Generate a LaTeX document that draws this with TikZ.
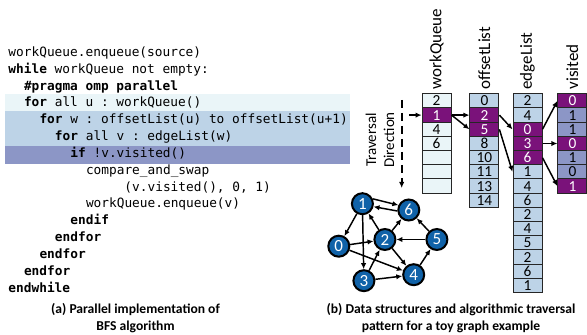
\documentclass[tikz,border=0pt]{standalone}
\usepackage{fontspec}
\setmainfont{Carlito}
\setmonofont{DejaVu Sans Mono}
\usetikzlibrary{arrows.meta}

\definecolor{lightcyan}{RGB}{234,245,248}
\definecolor{steelblue}{RGB}{189,211,231}
\definecolor{lavender}{RGB}{140,150,198}
\definecolor{hotpurple}{RGB}{122,18,122}
\definecolor{nodeblue}{RGB}{16,98,168}

\tikzset{every picture/.style={line width=0.75pt}}
\tikzset{
  >={Latex[length=4.5pt,width=4pt]},
  cell/.style={draw=black!85, minimum width=21.75pt, minimum height=10.65pt, inner sep=0pt, font=\fontsize{11.5}{11.5}\selectfont},
  wqcell/.style={cell, fill=lightcyan},
  lscell/.style={cell, fill=steelblue},
  viscell/.style={cell, fill=lavender},
  hotcell/.style={cell, fill=hotpurple, text=white},
  colname/.style={rotate=90, anchor=west, inner sep=0pt, font=\fontsize{12.75}{13}\selectfont},
  gnode/.style={circle, draw=black, line width=1.5pt, fill=nodeblue, text=white, minimum size=15.75pt, inner sep=0pt, font=\fontsize{12.75}{12.75}\selectfont},
  garrow/.style={->, line width=1.1pt},
  code/.style={anchor=west, inner sep=0pt, text height=7pt, text depth=2pt, font=\ttfamily\fontsize{9.6}{10}\selectfont},
  caption/.style={align=center, inner sep=0pt, font=\bfseries\fontsize{10.2}{12.75}\selectfont}
}

\begin{document}
\begin{tikzpicture}[x=0.75pt,y=0.75pt,yscale=-1,xscale=1]
\useasboundingbox (0,0) rectangle (587,335);

%Shape: Rectangle (code highlights)
\fill [lightcyan] (4.5,94) rectangle (350,111.5);
\fill [steelblue] (4.5,111.5) rectangle (350,146.4);
\fill [lavender] (4.5,146.4) rectangle (350,164.5);

% Text Node (code)
\node [code] (l1) at (8,53) {workQueue.enqueue(source)};
\node [code] (l2) at (8,69.85) {\textbf{while} workQueue not empty:};
\node [code] (l3) at (23.5,86.7) {\textbf{\#pragma omp parallel}};
\node [code] (l4) at (23.5,103.55) {\textbf{for} all u : workQueue()};
\node [code] (l5) at (39,120.4) {\textbf{for} w : offsetList(u) to offsetList(u+1)};
\node [code] (l6) at (54.5,137.25) {\textbf{for} all v : edgeList(w)};
\node [code] (l7) at (70,154.1) {\textbf{if} !v.visited()};
\node [code] (l8) at (85.5,170.95) {compare\_and\_swap};
\node [code] (l9) at (124,187.8) {(v.visited(), 0, 1)};
\node [code] (l10) at (85.5,204.65) {workQueue.enqueue(v)};
\node [code] (l11) at (70,221.5) {\textbf{endif}};
\node [code] (l12) at (54.5,238.35) {\textbf{endfor}};
\node [code] (l13) at (39,255.2) {\textbf{endfor}};
\node [code] (l14) at (23.5,272.05) {\textbf{endfor}};
\node [code] (l15) at (8,288.9) {\textbf{endwhile}};

% Text Node (captions)
\node [caption] (capa) at (135.5,318.5) {(a) Parallel implementation of\\BFS algorithm};
\node [caption] (capb) at (451,318.5) {(b) Data structures and algorithmic traversal\\pattern for a toy graph example};

% Text Node (column names)
\node [colname] (wqname) at (436.6,90) {workQueue};
\node [colname] (offname) at (484.4,90) {offsetList};
\node [colname] (elname) at (527.5,90) {edgeList};
\node [colname] (visname) at (572.4,90) {visited};

%Shape: Rectangle (workQueue)
\node [wqcell] (wq1) at (436.6,100.9) {2};
\node [hotcell] (wq2) at (436.6,115.1) {1};
\node [wqcell] (wq3) at (436.6,129.3) {4};
\node [wqcell] (wq4) at (436.6,143.5) {6};
\node [wqcell] (wq5) at (436.6,157.7) {};
\node [wqcell] (wq6) at (436.6,171.9) {};
\node [wqcell] (wq7) at (436.6,186.1) {};

%Shape: Rectangle (offsetList)
\node [lscell] (off1) at (484.4,100.9) {0};
\node [hotcell] (off2) at (484.4,115.1) {2};
\node [hotcell] (off3) at (484.4,129.3) {5};
\node [lscell] (off4) at (484.4,143.5) {8};
\node [lscell] (off5) at (484.4,157.7) {10};
\node [lscell] (off6) at (484.4,171.9) {11};
\node [lscell] (off7) at (484.4,186.1) {13};
\node [lscell] (off8) at (484.4,200.3) {14};

%Shape: Rectangle (edgeList)
\node [lscell] (el1) at (527.5,100.9) {2};
\node [lscell] (el2) at (527.5,115.1) {4};
\node [hotcell] (el3) at (527.5,129.3) {0};
\node [hotcell] (el4) at (527.5,143.5) {3};
\node [hotcell] (el5) at (527.5,157.7) {6};
\node [lscell] (el6) at (527.5,171.9) {1};
\node [lscell] (el7) at (527.5,186.1) {4};
\node [lscell] (el8) at (527.5,200.3) {6};
\node [lscell] (el9) at (527.5,214.5) {2};
\node [lscell] (el10) at (527.5,228.7) {4};
\node [lscell] (el11) at (527.5,242.9) {5};
\node [lscell] (el12) at (527.5,257.1) {2};
\node [lscell] (el13) at (527.5,271.3) {6};
\node [lscell] (el14) at (527.5,285.5) {1};

%Shape: Rectangle (visited)
\node [hotcell] (vis1) at (572.4,100.9) {0};
\node [viscell] (vis2) at (572.4,115.1) {1};
\node [viscell] (vis3) at (572.4,129.3) {1};
\node [hotcell] (vis4) at (572.4,143.5) {0};
\node [viscell] (vis5) at (572.4,157.7) {1};
\node [viscell] (vis6) at (572.4,171.9) {0};
\node [hotcell] (vis7) at (572.4,186.1) {1};

% Text Node (traversal)
\node [rotate=90, align=center, inner sep=0pt, font=\fontsize{11.25}{13.5}\selectfont] (trav) at (380,140) {Traversal\\Direction};

%Straight Lines
\coordinate (trtop) at (401.7,100);
\coordinate (trbot) at (401.7,188);
\coordinate (wqin) at (409,115.1);
\draw [->, line width=1.5pt, dash pattern=on 6pt off 3.75pt] (trtop) -- (trbot);
\draw [->, line width=1.1pt] (wqin) -- (wq2);
\draw [->, line width=1.1pt] (wq2.east) -- (off2.west);
\draw [->, line width=1.1pt] (wq2.east) -- (off3.west);
\draw [->, line width=1.1pt] (off2.east) -- (el3.west);
\draw [->, line width=1.1pt] (off3.east) -- (el6.west);
\draw [->, line width=1.1pt] (el3.east) -- (vis1.west);
\draw [->, line width=1.1pt] (el4.east) -- (vis4.west);
\draw [->, line width=1.1pt] (el5.east) -- (vis7.west);

%Shape: Circle (graph)
\node [gnode] (n1) at (362.4,203.7) {1};
\node [gnode] (n6) at (408.8,210) {6};
\node [gnode] (n0) at (338.8,246.2) {0};
\node [gnode] (n2) at (384.9,239.5) {2};
\node [gnode] (n5) at (436.9,239.5) {5};
\node [gnode] (n3) at (363.9,280.7) {3};
\node [gnode] (n4) at (413.7,274.7) {4};

%Straight Lines (graph edges)
\draw [garrow] (n0) -- (n2);
\draw [garrow] (n0) -- (n4);
\draw [garrow] (n1) -- (n0);
\draw [garrow] (n1) -- (n3);
\draw [garrow] (n1.25) -- (n6.155);
\draw [garrow] (n2) -- (n1);
\draw [garrow] (n2) -- (n4);
\draw [garrow] (n2) -- (n6);
\draw [garrow] (n3) -- (n2);
\draw [garrow] (n3) -- (n4);
\draw [garrow] (n4) -- (n5);
\draw [garrow] (n5) -- (n2);
\draw [garrow] (n5) -- (n6);
\draw [garrow] (n6.185) -- (n1.-15);

\end{tikzpicture}
\end{document}
